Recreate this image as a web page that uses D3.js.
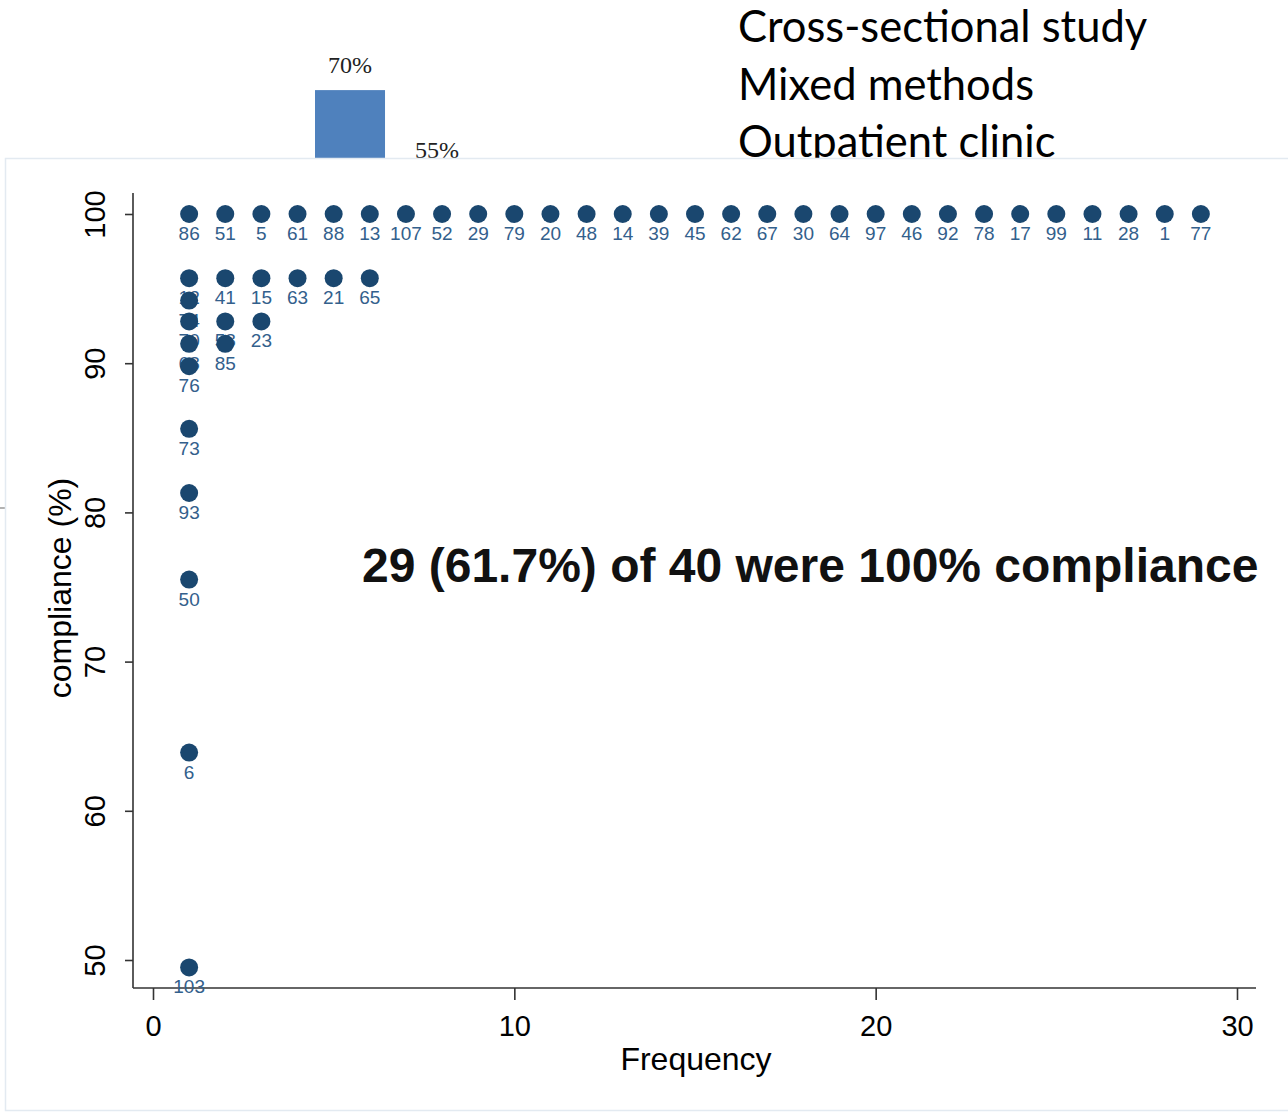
<!DOCTYPE html>
<html>
<head>
<meta charset="utf-8">
<script src="https://cdn.jsdelivr.net/npm/d3@7"></script>
<style>
  html, body { margin: 0; padding: 0; background: #fff; }
  svg { display: block; }
</style>
</head>
<body>
<svg id="chart" width="1288" height="1116"></svg>
<script>
// Slide behind the figure: bar values and the study description
const slideBarValues = [70, 55];
const slideBarColors = ["#4f81bd", "#c0504d"];
const slideLines = ["Cross-sectional study", "Mixed methods", "Outpatient clinic"];

// Dot plot: patient id and compliance (%), one entry per patient
const patientIds = [
  86, 51, 5, 61, 88, 13, 107, 52, 29, 79, 20, 48, 14, 39, 45,
  62, 67, 30, 64, 97, 46, 92, 78, 17, 99, 11, 28, 1, 77,
  12, 41, 15, 63, 21, 65,
  74,
  70, 58, 23,
  68, 85,
  76, 73, 93, 50, 6, 103
];
const compliance = [
  100, 100, 100, 100, 100, 100, 100, 100, 100, 100, 100, 100, 100, 100, 100,
  100, 100, 100, 100, 100, 100, 100, 100, 100, 100, 100, 100, 100, 100,
  95.7, 95.7, 95.7, 95.7, 95.7, 95.7,
  94.2,
  92.8, 92.8, 92.8,
  91.3, 91.3,
  89.8, 85.6, 81.3, 75.5, 63.9, 49.5
];
const xTicks = [0, 10, 20, 30];
const yTicks = [50, 60, 70, 80, 90, 100];
const annotation = "29 (61.7%) of 40 were 100% compliance";

const svg = d3.select("#chart");
const sans = "'Liberation Sans', Arial, sans-serif";

// ---- slide layer ----
const slide = svg.append("g");
const bx = d3.scaleBand().domain(slideBarValues.map((d, i) => i)).range([315, 472]).paddingInner(0.195).paddingOuter(0);
const by = d3.scaleLinear().domain([0, 100]).range([487, -80]);
slide.selectAll("rect.bar").data(slideBarValues).join("rect")
  .attr("x", (d, i) => bx(i)).attr("width", bx.bandwidth())
  .attr("y", d => by(d)).attr("height", d => by(0) - by(d))
  .attr("fill", (d, i) => slideBarColors[i]);
slide.selectAll("text.bl").data(slideBarValues).join("text")
  .attr("x", (d, i) => bx(i) + bx.bandwidth() / 2).attr("y", d => by(d) - 17)
  .attr("text-anchor", "middle")
  .style("font-family", "'Liberation Serif', serif").style("font-size", "24px").attr("fill", "#222")
  .text(d => d + "%");
slide.selectAll("text.sl").data(slideLines).join("text")
  .attr("x", 738).attr("y", (d, i) => 42 + i * 57.5)
  .style("font-family", "Lato, sans-serif").style("font-size", "43.5px").attr("fill", "#000")
  .text(d => d);
slide.append("line").attr("x1", 0).attr("x2", 5).attr("y1", 508).attr("y2", 508)
  .attr("stroke", "#999").attr("stroke-width", 1.5);

// ---- figure panel ----
svg.append("rect").attr("x", 5.5).attr("y", 158.5).attr("width", 1290).attr("height", 952)
  .attr("fill", "#fff").attr("stroke", "#e3eaf1").attr("stroke-width", 1.5);

const x = d3.scaleLinear().domain([0, 30]).range([153, 1237]);
const y = d3.scaleLinear().domain([50, 100]).range([960, 214]);
const plotLeft = 133, plotBottom = 988, plotTop = 193, plotRight = 1256;

const g = svg.append("g");

// axes
const yAxis = g.append("g").attr("transform", `translate(${plotLeft},0)`)
  .call(d3.axisLeft(y).tickValues(yTicks).tickSize(8).tickSizeOuter(0));
yAxis.select(".domain").attr("d", `M0,${plotTop}V${plotBottom}`);
yAxis.selectAll(".tick text").each(function() {
  d3.select(this).attr("x", 0).attr("y", -28).attr("dy", 0)
    .attr("transform", "rotate(-90)").attr("text-anchor", "middle");
});

const xAxis = g.append("g").attr("transform", `translate(0,${plotBottom})`)
  .call(d3.axisBottom(x).tickValues(xTicks).tickSize(12).tickPadding(15).tickSizeOuter(0));
xAxis.select(".domain").attr("d", `M${plotLeft},0H${plotRight}`);

[yAxis, xAxis].forEach(a => {
  a.select(".domain").attr("stroke", "#333").attr("stroke-width", 1.6);
  a.selectAll(".tick line").attr("stroke", "#333").attr("stroke-width", 1.6);
  a.selectAll(".tick text").attr("fill", "#000")
    .style("font-family", sans).style("font-size", "29px");
});

// axis titles
g.append("text").attr("x", 696).attr("y", 1070).attr("text-anchor", "middle")
  .style("font-family", sans).style("font-size", "32px").text("Frequency");
g.append("text").attr("transform", `translate(71,588) rotate(-90)`).attr("text-anchor", "middle")
  .style("font-family", sans).style("font-size", "32px").text("compliance (%)");

// stack each patient within its compliance value
const seen = new Map();
const points = patientIds.map((id, i) => {
  const v = compliance[i];
  const k = (seen.get(v) || 0) + 1;
  seen.set(v, k);
  return { id, v, freq: k };
});
points.sort((a, b) => d3.descending(a.v, b.v) || d3.ascending(a.freq, b.freq));

const pg = g.selectAll("g.pt").data(points).join("g").attr("class", "pt");
pg.append("circle")
  .attr("cx", d => x(d.freq)).attr("cy", d => y(d.v)).attr("r", 9)
  .attr("fill", "#1a476f");
pg.append("text")
  .attr("x", d => x(d.freq)).attr("y", d => y(d.v) + 26)
  .attr("text-anchor", "middle")
  .style("font-family", sans).style("font-size", "19px")
  .attr("fill", "#33608c")
  .text(d => d.id);

// annotation
g.append("text").attr("x", 362).attr("y", 582)
  .style("font-family", sans).style("font-size", "48px").style("font-weight", "bold")
  .attr("fill", "#111").text(annotation);
</script>
</body>
</html>
